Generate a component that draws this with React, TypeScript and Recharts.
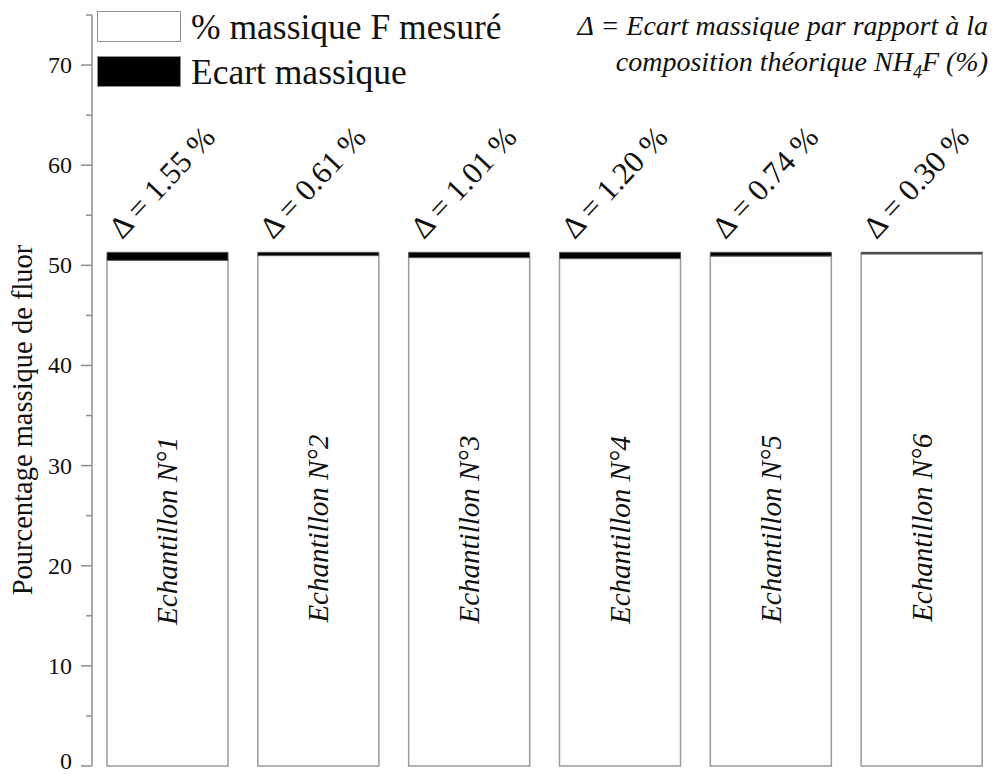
import React from 'react';
import { BarChart, Bar, XAxis, YAxis, Legend, LabelList, Label } from 'recharts';

const samples = ['Echantillon N°1', 'Echantillon N°2', 'Echantillon N°3', 'Echantillon N°4', 'Echantillon N°5', 'Echantillon N°6'];
const measured = [50.5, 50.99, 50.78, 50.68, 50.92, 51.15];
const ecart = [0.8, 0.31, 0.52, 0.62, 0.38, 0.15];
const deltaLabels = ['Δ = 1.55 %', 'Δ = 0.61 %', 'Δ = 1.01 %', 'Δ = 1.20 %', 'Δ = 0.74 %', 'Δ = 0.30 %'];
const yTicks = [0, 5, 10, 15, 20, 25, 30, 35, 40, 45, 50, 55, 60, 65, 70, 75];

const data = samples.map((name, i) => ({
  name,
  mesure: measured[i],
  ecart: ecart[i],
  delta: deltaLabels[i],
}));

const SERIF = "'Liberation Serif', 'Tinos', 'Times New Roman', 'DejaVu Serif', 'Noto Serif', serif";
const AXIS = '#8f8f8f';

const YTick = (props: any) => {
  const { x, y, payload } = props;
  const v = payload.value;
  const major = v % 10 === 0 && v <= 70;
  const len = major ? 11 : 6;
  return (
    <g>
      <line x1={x - len} y1={y} x2={x} y2={y} stroke={AXIS} strokeWidth={1.5} />
      {major && (
        <text x={x - 20} y={v === 0 ? y - 5 : y} textAnchor="end" dominantBaseline="central" style={{ fontFamily: SERIF }} fontSize={24} fill="#111">
          {v}
        </text>
      )}
    </g>
  );
};

const DeltaLabel = (props: any) => {
  const { x, y, index } = props;
  const tx = x + 15;
  const ty = y - 12;
  return (
    <text x={tx} y={ty} transform={`rotate(-47 ${tx} ${ty})`} style={{ fontFamily: SERIF }} fontSize={31} fill="#111">
      {deltaLabels[index]}
    </text>
  );
};

const SampleLabel = (props: any) => {
  const { x, y, width, height, index } = props;
  const cx = x + width / 2;
  const cy = y + height * 0.535;
  return (
    <text
      x={cx}
      y={cy}
      transform={`rotate(-90 ${cx} ${cy})`}
      textAnchor="middle"
      dominantBaseline="central"
      style={{ fontFamily: SERIF, fontStyle: 'italic' }}
      fontSize={29}
      fill="#111"
    >
      {samples[index]}
    </text>
  );
};

const YLabel = () => (
  <text
    x={22}
    y={420}
    transform="rotate(-90 22 420)"
    textAnchor="middle"
    dominantBaseline="central"
    style={{ fontFamily: SERIF }}
    fontSize={28.5}
    fill="#111"
  >
    Pourcentage massique de fluor
  </text>
);

const legendItems = [
  { label: '% massique F mesuré', fill: '#ffffff' },
  { label: 'Ecart massique', fill: '#000000' },
];

const renderLegend = () => (
  <div style={{ fontFamily: SERIF, fontSize: 35.5, color: '#111' }}>
    {legendItems.map((it) => (
      <div key={it.label} style={{ display: 'flex', alignItems: 'center', height: 45 }}>
        <div style={{ width: 82, height: 29, background: it.fill, border: `1.5px solid ${AXIS}`, marginRight: 10 }} />
        <span style={{ lineHeight: '30px' }}>{it.label}</span>
      </div>
    ))}
  </div>
);

export default function App() {
  return (
    <div style={{ position: 'absolute', left: 0, top: 0, width: 994, height: 774, background: '#fff' }}>
      <BarChart
        width={994}
        height={774}
        data={data}
        margin={{ top: 15, right: -3, bottom: 8, left: 0 }}
        barSize={121}
      >
        <XAxis dataKey="name" height={0} tick={false} tickLine={false} axisLine={{ stroke: AXIS, strokeWidth: 1.5 }} />
        <YAxis
          width={92}
          domain={[0, 75]}
          ticks={yTicks}
          interval={0}
          tickSize={0}
          tickMargin={0}
          tickLine={false}
          tick={<YTick />}
          axisLine={{ stroke: AXIS, strokeWidth: 1.5 }}
        >
          <Label content={<YLabel />} />
        </YAxis>
        <Legend
          layout="vertical"
          align="center"
          verticalAlign="middle"
          content={renderLegend}
          wrapperStyle={{ top: 4, left: 97, width: 'auto', height: 'auto' }}
        />
        <Bar dataKey="mesure" stackId="a" fill="#ffffff" stroke="#9a9a9a" strokeWidth={1.5} isAnimationActive={false}>
          <LabelList dataKey="name" content={<SampleLabel />} />
        </Bar>
        <Bar dataKey="ecart" stackId="a" fill="#000000" stroke="#555" strokeWidth={1} isAnimationActive={false}>
          <LabelList dataKey="delta" content={<DeltaLabel />} />
        </Bar>
      </BarChart>
      <div
        style={{
          position: 'absolute',
          right: 6,
          top: 8,
          fontFamily: SERIF,
          fontStyle: 'italic',
          fontSize: 28,
          lineHeight: '36px',
          textAlign: 'right',
          color: '#111',
        }}
      >
        <div>Δ = Ecart massique par rapport à la</div>
        <div>
          composition théorique NH<sub style={{ fontSize: 18, lineHeight: 0 }}>4</sub>F (%)
        </div>
      </div>
    </div>
  );
}
